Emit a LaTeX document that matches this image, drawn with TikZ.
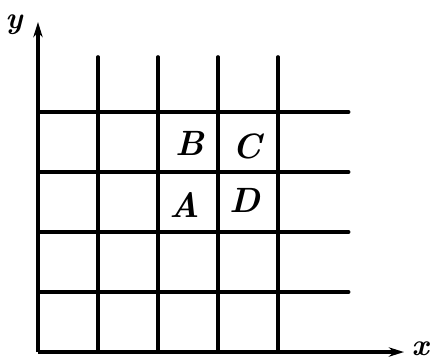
\documentclass[tikz,border=0pt]{standalone}
\usepackage{tikz}
\usetikzlibrary{arrows.meta,positioning}
\tikzset{
  gridline/.style={line width=2.8pt,line cap=round},
  axisline/.style={line width=3pt,-{Stealth[length=13pt,width=8pt]}},
  cellname/.style={font=\fontsize{30}{32}\selectfont\bfseries\itshape},
  axisname/.style={font=\fontsize{26}{28}\selectfont\bfseries\itshape},
}

\begin{document}
\begin{tikzpicture}[x=1.8cm,y=1.8cm]
\useasboundingbox (-0.633,-0.15) rectangle (6.55,5.867);

\coordinate (o) at (0,0);
\coordinate (xend) at (6.1,0);
\coordinate (yend) at (0,5.5);

% grid
\foreach \i in {1,2,3,4} {
  \draw[gridline] (\i,0) -- (\i,4.92);
  \draw[gridline] (0,\i) -- (5.18,\i);
}

% axes
\draw[axisline] (o) -- (xend);
\draw[axisline] (o) -- (yend);
\node[axisname] (xname) at (6.37,0.05) {x};
\node[axisname] (yname) at (-0.4,5.45) {y};

% cells
\node[cellname] (b) at (2.53,3.47) {B};
\node[cellname] (c) at (3.48,3.42) {C};
\node[cellname] (a) at (2.45,2.45) {A};
\node[cellname] (d) at (3.45,2.53) {D};

\end{tikzpicture}
\end{document}
